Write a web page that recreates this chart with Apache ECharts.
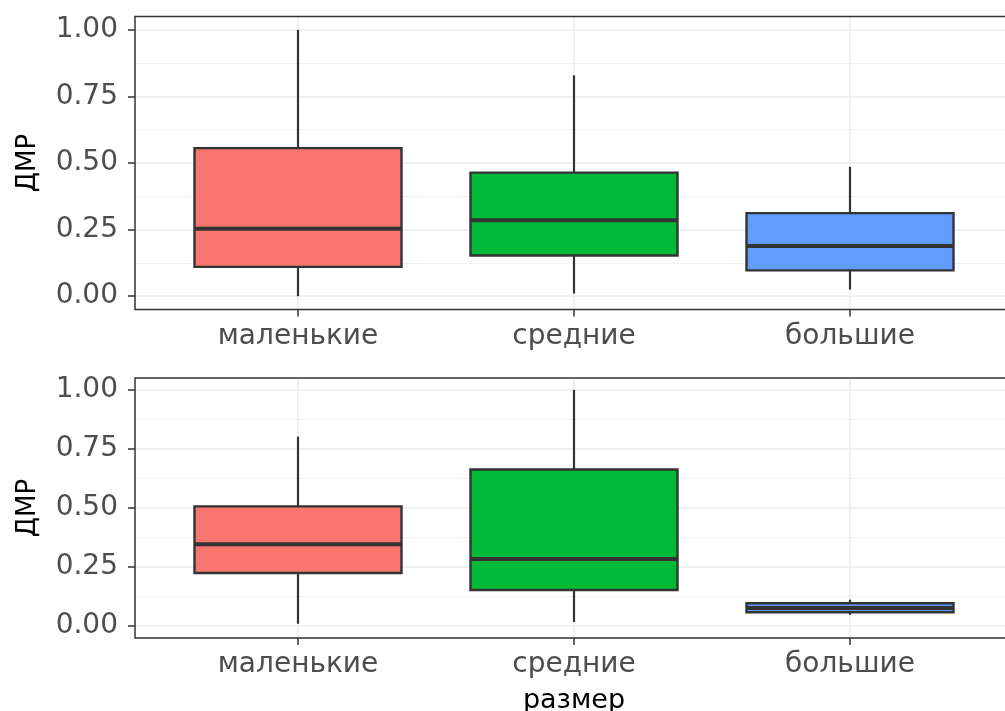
<!DOCTYPE html>
<html>
<head>
<meta charset="utf-8">
<script src="https://cdn.jsdelivr.net/npm/echarts@6/dist/echarts.min.js"></script>
<style>
  html, body { margin: 0; padding: 0; background: #fff; }
  #chart { width: 1005px; height: 711px; }
</style>
</head>
<body>
<div id="chart"></div>
<script>
// категории
var sizes = ['маленькие', 'средние', 'большие'];
var yTicks = [0, 0.25, 0.5, 0.75, 1];

// верхняя панель: мин, Q1, медиана, Q3, макс
var topMin = [0.00, 0.010, 0.025];
var topQ1  = [0.110, 0.153, 0.097];
var topMed = [0.253, 0.285, 0.188];
var topQ3  = [0.556, 0.464, 0.312];
var topMax = [1.00, 0.829, 0.486];

// нижняя панель
var botMin = [0.010, 0.018, 0.048];
var botQ1  = [0.225, 0.153, 0.059];
var botMed = [0.347, 0.284, 0.077];
var botQ3  = [0.507, 0.663, 0.097];
var botMax = [0.802, 1.00, 0.112];

var fills = ['#F8766D', '#00BA38', '#619CFF'];
var font = 'DejaVu Sans';

function rows(mn, q1, md, q3, mx) {
	return sizes.map(function (s, i) { return [i, mn[i], q1[i], md[i], q3[i], mx[i]]; });
}

function renderBox(params, api) {
	var x = api.value(0);
	var lo = api.coord([x, api.value(1)]);
	var q1 = api.coord([x, api.value(2)]);
	var md = api.coord([x, api.value(3)]);
	var q3 = api.coord([x, api.value(4)]);
	var hi = api.coord([x, api.value(5)]);
	var half = api.size([1, 0])[0] * 0.75 / 2;
	var cx = q1[0];
	return {
		type: 'group',
		children: [
			{ type: 'line', shape: { x1: cx, y1: lo[1], x2: cx, y2: q1[1] }, style: { stroke: '#333333', lineWidth: 2.2 } },
			{ type: 'line', shape: { x1: cx, y1: q3[1], x2: cx, y2: hi[1] }, style: { stroke: '#333333', lineWidth: 2.2 } },
			{ type: 'rect', shape: { x: cx - half, y: q3[1], width: half * 2, height: q1[1] - q3[1] },
				style: { fill: fills[x], stroke: '#333333', lineWidth: 2.4 } },
			{ type: 'line', shape: { x1: cx - half, y1: md[1], x2: cx + half, y2: md[1] },
				style: { stroke: '#333333', lineWidth: 4 } }
		]
	};
}

// панели: рамка, ось Y, данные
var panels = [
	{ top: 16.5, height: 293, data: rows(topMin, topQ1, topMed, topQ3, topMax), xname: '' },
	{ top: 378, height: 260, data: rows(botMin, botQ1, botMed, botQ3, botMax), xname: 'размер' }
];
var frameLeft = 135, frameWidth = 886;
var dataLeft = 160, dataWidth = 828;

var grid = [], xAxis = [], yAxis = [], series = [];
panels.forEach(function (p, k) {
	var g0 = grid.length;
	// рамка
	grid.push({ left: frameLeft, width: frameWidth, top: p.top, height: p.height, outerBoundsMode: 'none',
		show: true, borderColor: '#333333', borderWidth: 1.5, backgroundColor: 'transparent', z: 5 });
	// ось Y 0..1
	grid.push({ left: frameLeft, width: frameWidth, top: p.top + p.height * 0.05 / 1.1, height: p.height / 1.1,
		outerBoundsMode: 'none' });
	// данные
	grid.push({ left: dataLeft, width: dataWidth, top: p.top, height: p.height, outerBoundsMode: 'none' });

	xAxis.push({ gridIndex: g0, type: 'value', show: false });
	yAxis.push({ gridIndex: g0, type: 'value', show: false });

	xAxis.push({ gridIndex: g0 + 1, type: 'value', show: false });
	yAxis.push({
		gridIndex: g0 + 1, type: 'value', min: 0, max: 1, interval: 0.25,
		name: 'ДМР', nameLocation: 'middle', nameGap: 94,
		nameTextStyle: { fontFamily: font, fontSize: 26, color: '#000' },
		axisLine: { show: false },
		axisTick: { show: true, length: 7, lineStyle: { color: '#333333', width: 1.5 } },
		axisLabel: { margin: 17, fontFamily: font, fontSize: 28, color: '#4d4d4d',
			formatter: function (v) { return v.toFixed(2); } },
		splitLine: { show: true, lineStyle: { color: '#ebebeb', width: 1.5 } },
		minorTick: { show: false, splitNumber: 2 },
		minorSplitLine: { show: true, lineStyle: { color: '#f2f2f2', width: 1 } }
	});

	xAxis.push({
		gridIndex: g0 + 2, type: 'category', data: sizes,
		name: p.xname, nameLocation: 'middle', nameGap: 49,
		nameTextStyle: { fontFamily: font, fontSize: 27, color: '#000' },
		axisLine: { show: false, onZero: false },
		axisTick: { show: true, inside: false, alignWithLabel: true, length: 7, lineStyle: { color: '#333333', width: 1.5 } },
		axisLabel: { margin: 13, fontFamily: font, fontSize: 28, color: '#4d4d4d' },
		splitLine: { show: true, alignWithLabel: true, lineStyle: { color: '#ebebeb', width: 1.5 } }
	});
	yAxis.push({ gridIndex: g0 + 2, type: 'value', min: -0.05, max: 1.05, show: false });

	series.push({
		type: 'custom', xAxisIndex: k * 3 + 2, yAxisIndex: k * 3 + 2,
		renderItem: renderBox, data: p.data, z: 3
	});
});

var chart = echarts.init(document.getElementById('chart'));
chart.setOption({
	animation: false,
	backgroundColor: '#ffffff',
	grid: grid,
	xAxis: xAxis,
	yAxis: yAxis,
	series: series
});
window.addEventListener('resize', function () { chart.resize(); });
</script>
</body>
</html>
